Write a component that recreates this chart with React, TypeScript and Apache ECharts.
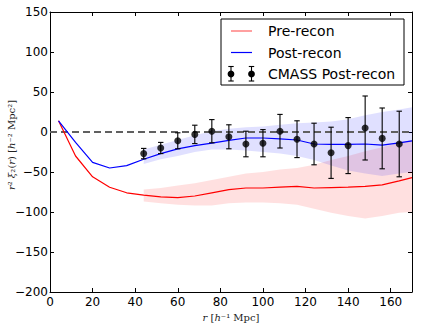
import React, { useEffect, useRef } from "react";
import * as echarts from "echarts";

// ---- data ----
const rGrid = [4, 12, 20, 28, 36, 44, 52, 60, 68, 76, 84, 92, 100, 108, 116, 124, 132, 140, 148, 156, 164, 170];
const preRecon = [14, -30, -56, -69, -76, -79, -81, -82, -80, -76, -72, -70, -70, -69, -68, -70, -69.5, -69, -68, -66, -61, -57];
const postRecon = [14, -13, -38, -45, -42, -34, -27, -21, -17, -14, -10.5, -7.5, -7.5, -8.5, -10, -15, -15.5, -15.5, -15, -16.5, -13.5, -11];

const bandR = [44, 52, 60, 68, 76, 84, 92, 100, 108, 116, 124, 132, 140, 148, 156, 164, 170];
const preHi = [-72, -70, -67, -64, -60, -56, -52, -50, -47, -45, -41, -35, -30, -24, -19, -13, -10];
const preLo = [-87, -89, -91, -92, -92, -89, -88, -88, -89, -91, -96, -101, -105, -108, -105, -101, -100];
const postHi = [-22, -16, -10, -4, 1, 4, 6, 7, 9, 11, 12, 13, 16, 21, 25, 28, 31];
const postLo = [-40, -34, -30, -25, -22, -22, -23, -25, -27, -30, -35, -42, -48, -52, -55, -52, -50];

const cmassR = [44, 52, 60, 68, 76, 84, 92, 100, 108, 116, 124, 132, 140, 148, 156, 164];
const cmassV = [-27, -20, -11, -3, 1, -6, -15, -14, 1, -9, -15, -26, -17, 5, -8, -15];
const cmassErr = [6.5, 7, 10, 11.5, 14.5, 15, 16, 17, 21, 23, 26, 32, 35, 40, 38, 41];

const xTicks = [0, 20, 40, 60, 80, 100, 120, 140, 160];
const legendLabels = ["Pre-recon", "Post-recon", "CMASS Post-recon"];

const FONT = "DejaVu Sans";
const SERIF = "DejaVu Serif";

function bandSeries(hi: number[], lo: number[], color: string) {
  return {
    type: "custom",
    clip: true,
    silent: true,
    z: 1,
    data: bandR.map((r, i) => [r, lo[i], hi[i]]),
    renderItem: (params: any, api: any) => {
      if (params.dataIndex !== 0) return { type: "group", children: [] };
      const pts: number[][] = [];
      for (let i = 0; i < bandR.length; i++) pts.push(api.coord([bandR[i], hi[i]]));
      for (let i = bandR.length - 1; i >= 0; i--) pts.push(api.coord([bandR[i], lo[i]]));
      return { type: "polygon", shape: { points: pts }, style: { fill: color } };
    },
  };
}

export default function App() {
  const ref = useRef<HTMLDivElement>(null);
  useEffect(() => {
    if (!ref.current) return;
    const chart = echarts.init(ref.current, undefined, { renderer: "svg" });
    const axisLine = { show: true, onZero: false, lineStyle: { color: "#000", width: 1 } };
    const axisTick = { show: true, inside: true, length: 4, lineStyle: { color: "#000", width: 1 } };
    const minus = (v: number) => String(v).replace("-", "\u2212");
    const fs = 10;
    const italic = { fontStyle: "italic", fontFamily: SERIF, fontSize: fs, color: "#222", fill: "#222" };
    const roman = { fontFamily: SERIF, fontSize: fs, color: "#222", fill: "#222" };

    const capHalf = 2.7;
    const option: any = {
      animation: false,
      grid: { left: 50, right: 24, top: 12, bottom: 32, containLabel: false, outerBoundsMode: "none" },
      xAxis: [
        {
          type: "value", min: 0, max: 170, interval: 20, position: "bottom",
          axisLine, axisTick, splitLine: { show: false },
          axisLabel: {
            fontSize: 12, color: "#000", fontFamily: FONT, margin: 4,
            formatter: (v: number) => (xTicks.includes(v) ? String(v) : ""),
          },
          name: "{i|r} {n|[}{i|h}{n|\u207B\u00B9 Mpc]}",
          nameLocation: "middle", nameGap: 13,
          nameTextStyle: { ...roman, rich: { i: italic, n: roman } },
        },
        {
          type: "value", min: 0, max: 170, interval: 20, position: "top",
          axisLine, axisTick, splitLine: { show: false }, axisLabel: { show: false },
        },
      ],
      yAxis: [
        {
          type: "value", min: -200, max: 150, interval: 50, position: "left",
          axisLine, axisTick, splitLine: { show: false },
          axisLabel: { fontSize: 12, color: "#000", fontFamily: FONT, margin: 2, formatter: minus },
        },
        {
          type: "value", min: -200, max: 150, interval: 50, position: "right",
          axisLine, axisTick, splitLine: { show: false }, axisLabel: { show: false },
        },
      ],
      series: [
        bandSeries(preHi, preLo, "rgba(255,0,0,0.12)"),
        bandSeries(postHi, postLo, "rgba(0,0,255,0.12)"),
        {
          type: "line", z: 2, silent: true, showSymbol: false,
          data: [[0, 0], [170, 0]],
          lineStyle: { color: "#606060", width: 1.8, type: [7, 4] },
        },
        {
          type: "line", z: 3, silent: true, showSymbol: false,
          data: rGrid.map((r, i) => [r, preRecon[i]]),
          lineStyle: { color: "#ff0000", width: 1.2 },
        },
        {
          type: "line", z: 3, silent: true, showSymbol: false,
          data: rGrid.map((r, i) => [r, postRecon[i]]),
          lineStyle: { color: "#0000ff", width: 1.2 },
        },
        {
          type: "custom", z: 4, silent: true,
          data: cmassR.map((r, i) => [r, cmassV[i], cmassErr[i]]),
          renderItem: (_p: any, api: any) => {
            const x = api.value(0), y = api.value(1), e = api.value(2);
            const t = api.coord([x, y + e]);
            const b = api.coord([x, y - e]);
            const st = { stroke: "#000", lineWidth: 1.1 };
            return {
              type: "group",
              children: [
                { type: "line", shape: { x1: t[0], y1: t[1], x2: b[0], y2: b[1] }, style: st },
                { type: "line", shape: { x1: t[0] - capHalf, y1: t[1], x2: t[0] + capHalf, y2: t[1] }, style: st },
                { type: "line", shape: { x1: b[0] - capHalf, y1: b[1], x2: b[0] + capHalf, y2: b[1] }, style: st },
              ],
            };
          },
        },
        {
          type: "scatter", z: 5, silent: true, symbol: "circle", symbolSize: 7,
          itemStyle: { color: "#000" },
          data: cmassR.map((r, i) => [r, cmassV[i]]),
        },
      ],
      graphic: [
        {
          type: "text", x: 11, y: 145, rotation: Math.PI / 2, z: 100,
          style: {
            text: "{i|r}{n|\u00B2 }{i|\u03BE}{n|\u2082(}{i|r}{n|) [}{i|h}{n|\u207B\u00B2 Mpc\u00B2]}",
            align: "center", verticalAlign: "middle",
            fontFamily: SERIF, fontSize: fs, fill: "#222",
            rich: { i: italic, n: roman },
          },
        },
        {
          type: "group", z: 100,
          children: [
            { type: "rect", shape: { x: 221, y: 19, width: 183, height: 66 }, style: { fill: "#fff", stroke: "#000", lineWidth: 1 } },
            { type: "line", shape: { x1: 231, y1: 31, x2: 252, y2: 31 }, style: { stroke: "#ff8080", lineWidth: 1.5 } },
            { type: "line", shape: { x1: 231, y1: 52.5, x2: 252, y2: 52.5 }, style: { stroke: "#0000ff", lineWidth: 1.2 } },
            ...[231, 251.5].flatMap((cx) => [
              { type: "line", shape: { x1: cx, y1: 66.5, x2: cx, y2: 81 }, style: { stroke: "#000", lineWidth: 1.1 } },
              { type: "line", shape: { x1: cx - capHalf, y1: 66.5, x2: cx + capHalf, y2: 66.5 }, style: { stroke: "#000", lineWidth: 1.1 } },
              { type: "line", shape: { x1: cx - capHalf, y1: 81, x2: cx + capHalf, y2: 81 }, style: { stroke: "#000", lineWidth: 1.1 } },
              { type: "circle", shape: { cx, cy: 74, r: 3.4 }, style: { fill: "#000" } },
            ]),
            ...legendLabels.map((t, i) => ({
              type: "text", x: 268, y: [31, 52.5, 74][i],
              style: { text: t, fontFamily: FONT, fontSize: 14, fill: "#000", verticalAlign: "middle", align: "left" },
            })),
          ],
        },
      ],
    };
    chart.setOption(option);
    return () => chart.dispose();
  }, []);
  return (
    <div
      ref={ref}
      style={{ position: "fixed", left: 0, top: 0, width: 436, height: 324, background: "#fff" }}
    />
  );
}
